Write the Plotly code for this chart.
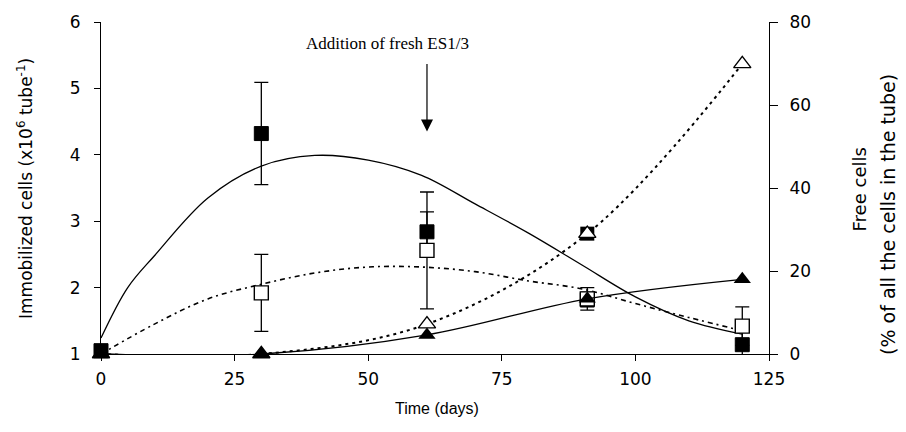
import plotly.graph_objects as go

# ---- data ----
days = [0, 30, 61, 91, 120]

# immobilized cells (left axis, x10^6 tube^-1)
immob_filled = [1.05, 4.32, 2.84, 1.82, 1.14]
immob_filled_err = [None, 0.77, 0.30, 0.11, 0.21]
immob_open = [None, 1.92, 2.56, 1.83, 1.42]
immob_open_err = [None, 0.58, 0.88, 0.17, 0.29]

# free cells (right axis, % of all the cells in the tube)
free_filled = [0, 0, 4.6, 13.3, 18.0]
free_open = [0, 0, 7.2, 29.0, 69.9]

# extra overlapping square marker seen under the open triangle at day 91
extra_days = [91]
extra_free = [29.0]

# trend curves
trend_filled_x = [0, 5, 10, 20, 30, 40, 50, 60, 70, 80, 90, 100, 110, 120]
trend_filled_y = [1.24, 2.0, 2.48, 3.35, 3.83, 3.99, 3.92, 3.69, 3.26, 2.82, 2.34, 1.86, 1.50, 1.30]
trend_open_x = [0, 10, 20, 30, 40, 50, 60, 70, 80, 90, 100, 110, 120]
trend_open_y = [1.0, 1.45, 1.83, 2.05, 2.22, 2.31, 2.31, 2.24, 2.10, 1.98, 1.76, 1.55, 1.35]

x_ticks = [0, 25, 50, 75, 100, 125]
left_ticks = [1, 2, 3, 4, 5, 6]
right_ticks = [0, 20, 40, 60, 80]

fig = go.Figure()

fig.add_trace(go.Scatter(x=trend_filled_x, y=trend_filled_y, mode="lines",
                         line=dict(color="black", width=1.3, shape="spline"),
                         hoverinfo="skip", showlegend=False))
fig.add_trace(go.Scatter(x=trend_open_x, y=trend_open_y, mode="lines",
                         line=dict(color="black", width=1.6, shape="spline",
                                   dash="5px,4px,2px,4px"),
                         hoverinfo="skip", showlegend=False))

fig.add_trace(go.Scatter(x=days, y=immob_filled, mode="markers", cliponaxis=False,
                         marker=dict(symbol="square", size=14, color="black",
                                     line=dict(color="black", width=1)),
                         error_y=dict(type="data", array=immob_filled_err, color="black",
                                      thickness=1.3, width=7),
                         showlegend=False))
fig.add_trace(go.Scatter(x=days, y=immob_open, mode="markers", cliponaxis=False,
                         marker=dict(symbol="square", size=14, color="white",
                                     line=dict(color="black", width=1.4)),
                         error_y=dict(type="data", array=immob_open_err, color="black",
                                      thickness=1.3, width=7),
                         showlegend=False))

fig.add_trace(go.Scatter(x=extra_days, y=extra_free, yaxis="y2", mode="markers",
                         cliponaxis=False,
                         marker=dict(symbol="square", size=14, color="black"),
                         showlegend=False))
fig.add_trace(go.Scatter(x=days, y=free_open, yaxis="y2", mode="lines+markers",
                         cliponaxis=False,
                         line=dict(color="black", width=2, shape="spline", dash="3px,4px"),
                         marker=dict(symbol="triangle-up", size=15, color="white",
                                     line=dict(color="black", width=1.4)),
                         showlegend=False))
fig.add_trace(go.Scatter(x=days, y=free_filled, yaxis="y2", mode="lines+markers",
                         cliponaxis=False,
                         line=dict(color="black", width=1.3, shape="spline"),
                         marker=dict(symbol="triangle-up", size=15, color="black"),
                         showlegend=False))

tickfont = dict(family="DejaVu Sans", size=17, color="black")
titlefont = dict(family="DejaVu Sans", size=17, color="black")

fig.update_layout(
    width=906, height=432,
    margin=dict(l=101, r=137, t=17, b=78),
    paper_bgcolor="white", plot_bgcolor="white",
    xaxis=dict(range=[0, 125], tickvals=x_ticks, ticks="outside", ticklen=6,
               tickcolor="black", showline=True, linecolor="black", linewidth=1,
               showgrid=False, zeroline=False, tickfont=tickfont,
               ticklabelstandoff=4),
    yaxis=dict(range=[1, 6], tickvals=left_ticks, ticks="outside", ticklen=6,
               tickcolor="black", showline=True, linecolor="black", linewidth=1,
               showgrid=False, zeroline=False, tickfont=tickfont,
               ticklabelstandoff=10),
    yaxis2=dict(range=[0, 80], tickvals=right_ticks, overlaying="y", side="right",
                ticks="outside", ticklen=8, tickcolor="black", showline=True,
                linecolor="black", linewidth=1, showgrid=False, zeroline=False,
                tickfont=tickfont, ticklabelstandoff=8),
    annotations=[
        dict(text="Immobilized cells (x10<sup>6</sup> tube<sup>-1</sup>)",
             xref="paper", yref="paper", x=-0.1138, y=0.5, textangle=-90,
             showarrow=False, xanchor="center", yanchor="middle", font=titlefont),
        dict(text="Time (days)", xref="paper", yref="paper", x=0.503, y=-0.165,
             showarrow=False, xanchor="center", yanchor="middle",
             font=dict(family="Liberation Sans", size=16, color="black")),
        dict(text="Free cells", xref="paper", yref="paper", x=1.1347, y=0.4956,
             textangle=-90, showarrow=False, xanchor="center", yanchor="middle",
             font=dict(family="DejaVu Sans", size=18, color="black")),
        dict(text="(% of all the cells in the tube)", xref="paper", yref="paper",
             x=1.178, y=0.4215, textangle=-90, showarrow=False, xanchor="center",
             yanchor="middle", font=dict(family="DejaVu Sans", size=19, color="black")),
        dict(text="Addition of fresh ES1/3", xref="paper", yref="paper",
             x=(387.5 - 101) / 668, y=0.935, showarrow=False, xanchor="center",
             yanchor="middle", font=dict(family="Liberation Serif", size=17, color="black")),
        dict(text="", x=61, xref="x", y=0.670, yref="paper", showarrow=True,
             ax=0, ay=-69, arrowhead=2, arrowsize=2.0, arrowwidth=1.2,
             arrowcolor="black", standoff=0),
    ],
)

fig.write_html("out.html")
